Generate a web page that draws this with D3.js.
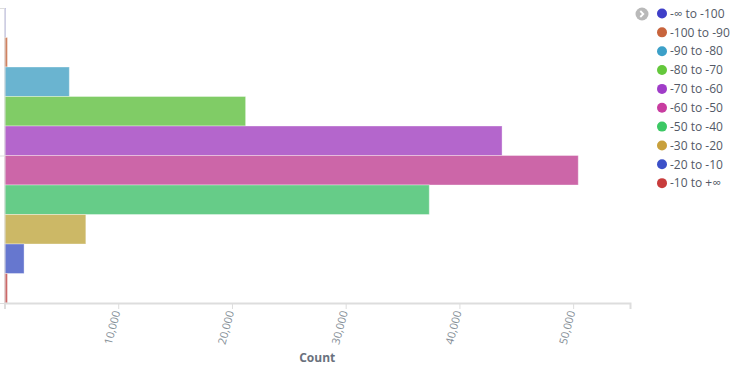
<!DOCTYPE html>
<html>
<head>
<meta charset="utf-8">
<script src="https://cdn.jsdelivr.net/npm/d3@7"></script>
<style>
  body { margin: 0; background: #fff; font-family: "Open Sans", sans-serif; }
</style>
</head>
<body>
<div class="chart"></div>
<script>
const width = 753
const height = 370

// Ranges (categories), counts and colours
const ranges = ["-∞ to -100", "-100 to -90", "-90 to -80", "-80 to -70", "-70 to -60",
    "-60 to -50", "-50 to -40", "-30 to -20", "-20 to -10", "-10 to +∞"]
const counts = [110, 260, 5700, 21200, 43750, 50450, 37350, 7150, 1720, 260]
const barColors = ["#8c8cdc", "#d0805e", "#6ab4d0", "#80cc66", "#b466cc",
    "#cc66a8", "#66cc88", "#ccb866", "#6677cf", "#cc6666"]
const dotColors = ["#3f3fc8", "#c8643c", "#3ca0c8", "#64c83c", "#a03cc8",
    "#c83ca0", "#3cc864", "#c8a03c", "#3c50c8", "#c83c3c"]
const xTicks = [10000, 20000, 30000, 40000, 50000]

const x = d3.scaleLinear()
    .domain([0, 55000])
    .range([4.5, 630])

const y = d3.scaleBand()
    .domain(ranges)
    .range([8, 303])
    .padding(0)

const yLin = d3.scaleLinear().domain([0, 1]).range([8, 303])

const svg = d3.select(".chart")
    .append("svg")
    .attr("width", width)
    .attr("height", height)

// bars
svg.selectAll("rect.bar")
    .data(ranges)
    .join("rect")
    .attr("class", "bar")
    .attr("x", x(0))
    .attr("y", d => y(d))
    .attr("width", (d, i) => x(counts[i]) - x(0))
    .attr("height", y.bandwidth())
    .attr("fill", (d, i) => barColors[i])
    .attr("stroke", "rgba(255,255,255,0.35)")
    .attr("stroke-width", 1)

// left axis (no labels)
const yAxis = svg.append("g")
    .attr("transform", `translate(${x(0)}, 0)`)
    .call(d3.axisLeft(yLin).tickValues([0, 0.5, 1]).tickFormat("").tickSize(5))
yAxis.select(".domain").attr("stroke", "#ddd")
yAxis.selectAll(".tick line").attr("stroke", "#ddd")

// bottom axis
const xAxis = svg.append("g")
    .attr("transform", `translate(0, 303)`)
    .call(d3.axisBottom(x).tickValues([0, ...xTicks, 55000]).tickSize(6)
        .tickFormat(d => xTicks.includes(d) ? d3.format(",")(d) : ""))
xAxis.select(".domain").attr("stroke", "#ddd").attr("stroke-width", 2)
xAxis.selectAll(".tick line").attr("stroke", "#ddd")
xAxis.selectAll(".tick text")
    .attr("fill", "#848e96")
    .attr("font-size", "11")
    .attr("font-family", "Open Sans, sans-serif")
    .attr("text-anchor", "end")
    .attr("dy", "0.35em")
    .attr("transform", "translate(-2, 8) rotate(-75)")
    .attr("x", 0)
    .attr("y", 0)

svg.append("text")
    .text("Count")
    .attr("x", (x.range()[0] + x.range()[1]) / 2)
    .attr("y", 362)
    .attr("text-anchor", "middle")
    .attr("fill", "#6a717d")
    .attr("font-weight", "bold")
    .attr("font-size", "12")

// legend toggle
svg.append("circle")
    .attr("cx", 642)
    .attr("cy", 14)
    .attr("r", 6.5)
    .attr("fill", "#b9b9b9")
svg.append("path")
    .attr("d", "M640.3,11 L643.3,14 L640.3,17")
    .attr("fill", "none")
    .attr("stroke", "#fff")
    .attr("stroke-width", 1.8)

// legend
const legend = svg.selectAll("g.legend")
    .data(ranges)
    .join("g")
    .attr("class", "legend")
    .attr("transform", (d, i) => `translate(662, ${13.5 + i * 18.85})`)

legend.append("circle")
    .attr("r", 5)
    .attr("fill", (d, i) => dotColors[i])

legend.append("text")
    .attr("x", 8)
    .attr("dy", "0.35em")
    .attr("fill", "#535966")
    .attr("font-size", "12")
    .text(d => d)
</script>
</body>
</html>
